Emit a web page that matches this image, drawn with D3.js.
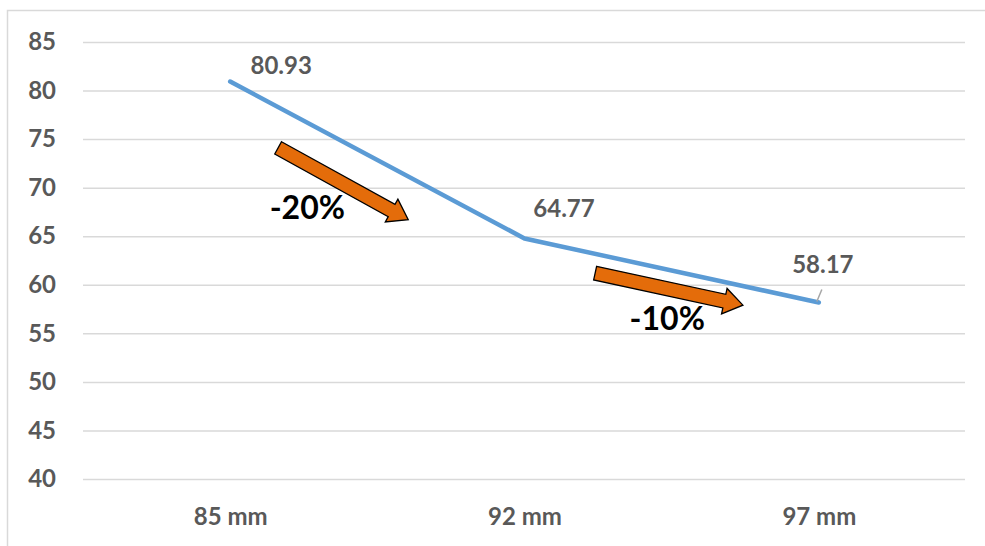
<!DOCTYPE html>
<html>
<head>
<meta charset="utf-8">
<script src="https://cdn.jsdelivr.net/npm/d3@7"></script>
<style>
  body { margin: 0; background: #fff; }
  svg { display: block; font-family: Lato, "Open Sans", sans-serif; }
</style>
</head>
<body>
<script>

// chart data
var categories = ["85 mm", "92 mm", "97 mm"];
var values = [80.93, 64.77, 58.17];
var yTicks = [40, 45, 50, 55, 60, 65, 70, 75, 80, 85];

// arrow annotations, in category-index / value units
var arrowFrom = [[0.163, 74.1], [1.24, 61.2]];
var arrowTo = [[0.605, 66.7], [1.742, 57.9]];
var arrowLabelAt = [[0.262, 66.8], [1.485, 55.3]];

var width = 985, height = 546;
var plotLeft = 83, plotRight = 966, plotTop = 42, plotBottom = 479;
var font = "Lato, 'Open Sans', sans-serif";

var svg = d3.select("body")
    .append("svg")
        .attr("width", width)
        .attr("height", height);

// chart frame
svg.append("rect")
    .attr("x", 7.5)
    .attr("y", 10.5)
    .attr("width", 1000)
    .attr("height", 600)
    .attr("fill", "none")
    .attr("stroke", "#d9d9d9")
    .attr("stroke-width", 1.5);

var x = d3.scalePoint()
    .domain(categories)
    .range([plotLeft, plotRight])
    .padding(0.5);

var y = d3.scaleLinear()
    .domain([40, 85])
    .range([plotBottom, plotTop]);

var step = x.step();
var xi = function (i) { return x(categories[0]) + i * step; };

// gridlines + y labels
var yAxis = svg.append("g")
    .attr("transform", "translate(" + plotLeft + ",0)")
    .call(d3.axisLeft(y)
        .tickValues(yTicks)
        .tickSize(-(965 - plotLeft))
        .tickPadding(27))
    .attr("font-family", font);

yAxis.select(".domain").remove();
yAxis.selectAll(".tick line")
    .attr("stroke", "#d9d9d9")
    .attr("stroke-width", 1.5);
yAxis.selectAll(".tick text")
    .attr("fill", "#595959")
    .style("font-size", "24px")
    .style("font-weight", "bold");

// x labels
var xAxis = svg.append("g")
    .attr("transform", "translate(0," + plotBottom + ")")
    .call(d3.axisBottom(x).tickSize(0).tickPadding(29))
    .attr("font-family", font);

xAxis.select(".domain").remove();
xAxis.selectAll(".tick text")
    .attr("fill", "#595959")
    .style("font-size", "24px")
    .style("font-weight", "bold");

// series line
var line = d3.line()
    .x(function (d, i) { return x(categories[i]); })
    .y(function (d) { return y(d); });

svg.append("path")
    .datum(values)
    .attr("d", line)
    .attr("fill", "none")
    .attr("stroke", "#5b9bd5")
    .attr("stroke-width", 4.5)
    .attr("stroke-linecap", "round")
    .attr("stroke-linejoin", "round");

// leader line for the last label
var last = values.length - 1;
svg.append("line")
    .attr("x1", x(categories[last]) - 2)
    .attr("y1", y(values[last]) - 1)
    .attr("x2", x(categories[last]) + 3)
    .attr("y2", y(values[last]) - 13)
    .attr("stroke", "#a6a6a6")
    .attr("stroke-width", 1.5);

// data labels
var labelDx = [51, 39.5, 4];
var labelDy = [-8, -21, -30];

svg.selectAll(".val")
    .data(values)
    .enter()
    .append("text")
        .attr("class", "val")
        .attr("x", function (d, i) { return x(categories[i]) + labelDx[i]; })
        .attr("y", function (d, i) { return y(d) + labelDy[i]; })
        .attr("text-anchor", "middle")
        .attr("fill", "#595959")
        .style("font-size", "24px")
        .style("font-weight", "bold")
        .text(function (d) { return d.toFixed(2); });

// orange block arrows
arrowFrom.forEach(function (a, k) {
    var b = arrowTo[k];
    var x0 = xi(a[0]), y0 = y(a[1]);
    var x1 = xi(b[0]), y1 = y(b[1]);
    var len = Math.hypot(x1 - x0, y1 - y0);
    var ang = Math.atan2(y1 - y0, x1 - x0) * 180 / Math.PI;
    var hl = 19, sw = 7, hw = 13;
    var pts = [[0, -sw], [len - hl, -sw], [len - hl, -hw], [len, 0],
               [len - hl, hw], [len - hl, sw], [0, sw]];

    svg.append("polygon")
        .attr("points", pts.map(function (p) { return p.join(","); }).join(" "))
        .attr("transform", "translate(" + x0 + "," + y0 + ") rotate(" + ang + ")")
        .attr("fill", "#e46c0a")
        .attr("stroke", "#000")
        .attr("stroke-width", 1.3)
        .attr("stroke-linejoin", "miter");
});

// percent change labels
arrowLabelAt.forEach(function (p, k) {
    var change = (values[k + 1] - values[k]) / values[k] * 100;
    svg.append("text")
        .attr("x", xi(p[0]))
        .attr("y", y(p[1]))
        .attr("text-anchor", "middle")
        .attr("fill", "#000")
        .style("font-size", "32px")
        .style("font-weight", "bold")
        .text(Math.round(change) + "%");
});

</script>
</body>
</html>
